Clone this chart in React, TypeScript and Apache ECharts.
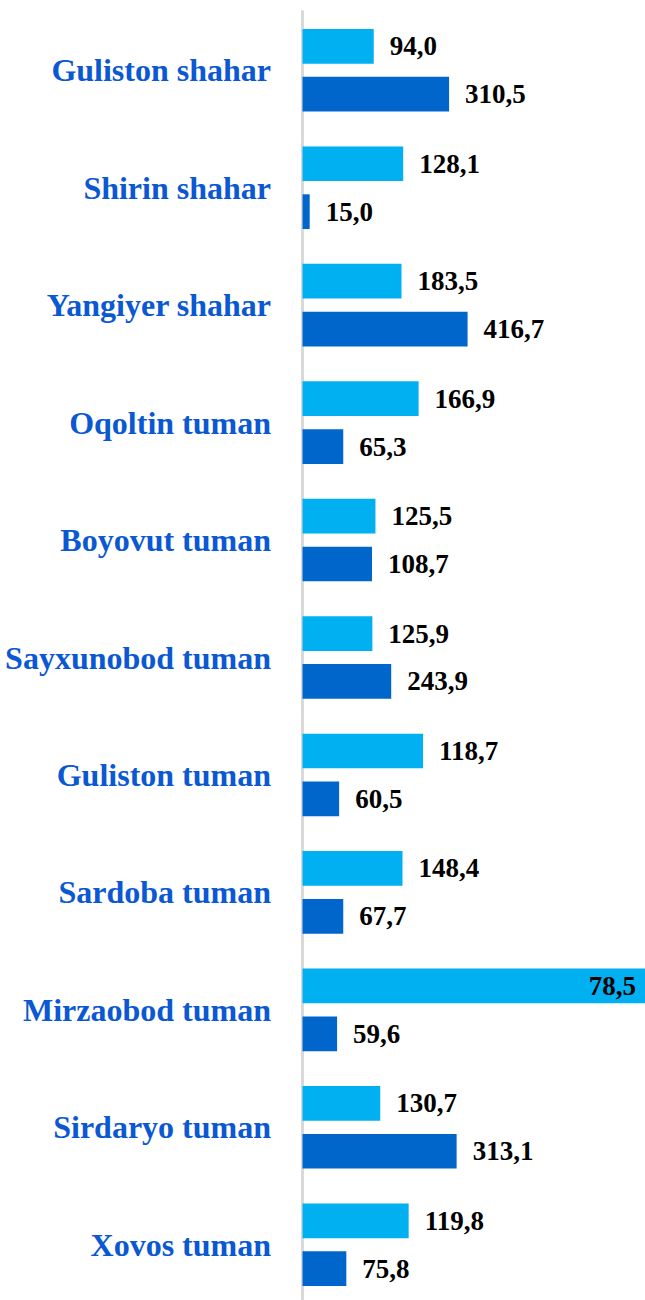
import React, { useEffect, useRef } from "react";
import * as echarts from "echarts";

const categories = [
  "Guliston shahar",
  "Shirin shahar",
  "Yangiyer shahar",
  "Oqoltin tuman",
  "Boyovut tuman",
  "Sayxunobod tuman",
  "Guliston tuman",
  "Sardoba tuman",
  "Mirzaobod tuman",
  "Sirdaryo tuman",
  "Xovos tuman",
];

// values printed next to the bars
const lightLabels = [94.0, 128.1, 183.5, 166.9, 125.5, 125.9, 118.7, 148.4, 78.5, 130.7, 119.8];
const darkLabels = [310.5, 15.0, 416.7, 65.3, 108.7, 243.9, 60.5, 67.7, 59.6, 313.1, 75.8];

// bar lengths as drawn (relative scale, axis 0..100, the Mirzaobod bar runs off the edge)
const lightBars = [20.8, 29.4, 28.9, 33.9, 21.3, 20.4, 35.2, 29.2, 100, 22.7, 31.0];
const darkBars = [42.8, 2.1, 48.2, 11.9, 20.3, 25.9, 10.7, 11.9, 10.1, 45.0, 12.8];

const AXIS_MAX = 100;

const fmt = (v: number) => v.toFixed(1).replace(".", ",");
const FONT = "'Liberation Serif', 'Times New Roman', serif";

export default function App() {
  const ref = useRef<HTMLDivElement>(null);

  useEffect(() => {
    if (!ref.current) return;
    const chart = echarts.init(ref.current, null, { renderer: "svg" });

    const valueLabel = {
      show: true,
      position: "right",
      distance: 16,
      color: "#000",
      fontFamily: FONT,
      fontWeight: "bold",
      fontSize: 27,
    };

    chart.setOption({
      animation: false,
      grid: { left: 302.5, right: 0, top: 11.5, height: 1292, containLabel: false },
      xAxis: {
        type: "value",
        min: 0,
        max: AXIS_MAX,
        show: false,
      },
      yAxis: {
        type: "category",
        data: categories,
        inverse: true,
        offset: 2.5,
        axisLine: { show: true, lineStyle: { color: "#D9D9D9", width: 3 } },
        axisTick: { show: false },
        axisLabel: {
          margin: 29,
          color: "#0A58D2",
          fontFamily: FONT,
          fontWeight: "bold",
          fontSize: 32,
        },
        splitLine: { show: false },
      },
      series: [
        {
          type: "bar",
          data: lightBars.map((v) =>
            v >= AXIS_MAX
              ? { value: v, label: { position: "insideRight", distance: 9 } }
              : v
          ),
          barWidth: 34.7,
          barGap: "38%",
          itemStyle: { color: "#00B0F0" },
          label: {
            ...valueLabel,
            formatter: (p: any) => fmt(lightLabels[p.dataIndex]),
          },
        },
        {
          type: "bar",
          data: darkBars,
          barWidth: 34.7,
          barGap: "38%",
          itemStyle: { color: "#0066CC" },
          label: {
            ...valueLabel,
            formatter: (p: any) => fmt(darkLabels[p.dataIndex]),
          },
        },
      ],
    });

    return () => chart.dispose();
  }, []);

  return (
    <div
      ref={ref}
      style={{ position: "fixed", left: 0, top: 0, width: 645, height: 1310, background: "#fff" }}
    />
  );
}
